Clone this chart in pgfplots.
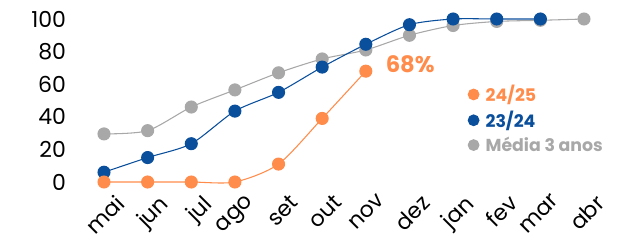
\documentclass[border=0pt]{standalone}
\usepackage{pgfplots}
\pgfplotsset{compat=1.18}
\usepackage{fontspec}
\setmainfont{Poppins}
\definecolor{corange}{HTML}{FF8C4B}
\definecolor{cblue}{HTML}{0A4F9C}
\definecolor{cgray}{HTML}{A8A8A8}
\begin{document}
\begin{tikzpicture}
\useasboundingbox (-78pt,-43.5pt) rectangle (393pt,136.5pt);
\begin{axis}[
  at={(0,0)}, anchor=origin,
  scale only axis, width=360pt, height=122.25pt,
  xmin=0, xmax=11, ymin=0, ymax=100,
  enlargelimits=false, clip=false,
  axis line style={draw=none},
  major tick style={draw=none},
  xtick={0,...,11},
  xticklabels={mai,jun,jul,ago,set,out,nov,dez,jan,fev,mar,abr},
  ytick={0,20,40,60,80,100},
  /pgf/number format/assume math mode=true,
  tick label style={font=\fontsize{16.5}{16.5}\selectfont, text=black},
  yticklabel style={xshift=-25pt},
  xticklabel style={rotate=45, anchor=north east, xshift=3pt, yshift=-8pt},
  legend style={draw=none, fill=none, at={(0.75,0.628)}, anchor=north west,
    font=\fontsize{13}{13}\bfseries\selectfont, row sep=1.5pt},
  legend cell align=left,
  every axis plot/.append style={smooth, tension=0.45, line width=0.8pt, mark=*, mark size=4.5pt},
]
\addplot[cgray, mark options={fill=cgray, draw=cgray}, forget plot] coordinates {
(0,29.5)(1,31.5)(2,46)(3,56.5)(4,67)(5,75.5)(6,81)(7,90)(8,96)(9,98.5)(10,99.2)(11,100)};
\addplot[cblue, mark options={fill=cblue, draw=cblue}, forget plot] coordinates {
(0,6)(1,15)(2,23.5)(3,43.5)(4,55)(5,70.5)(6,84.5)(7,96.5)(8,100)(9,100)(10,100)};
\addplot[corange, mark options={fill=corange, draw=corange}, forget plot] coordinates {
(0,0)(1,0)(2,0)(3,0)(4,11)(5,39)(6,68)};
\node[anchor=west, text=corange, font=\fontsize{17}{17}\bfseries\selectfont] at (axis cs:6.35,72) {68\%};
\addlegendimage{only marks, mark=*, mark size=4pt, corange}
\addlegendentry{\hspace{3pt}\textcolor{corange}{24/25}}
\addlegendimage{only marks, mark=*, mark size=4pt, cblue}
\addlegendentry{\hspace{3pt}\textcolor{cblue}{23/24}}
\addlegendimage{only marks, mark=*, mark size=4pt, cgray}
\addlegendentry{\hspace{3pt}\textcolor{cgray}{Média 3 anos}}
\end{axis}
\end{tikzpicture}
\end{document}
